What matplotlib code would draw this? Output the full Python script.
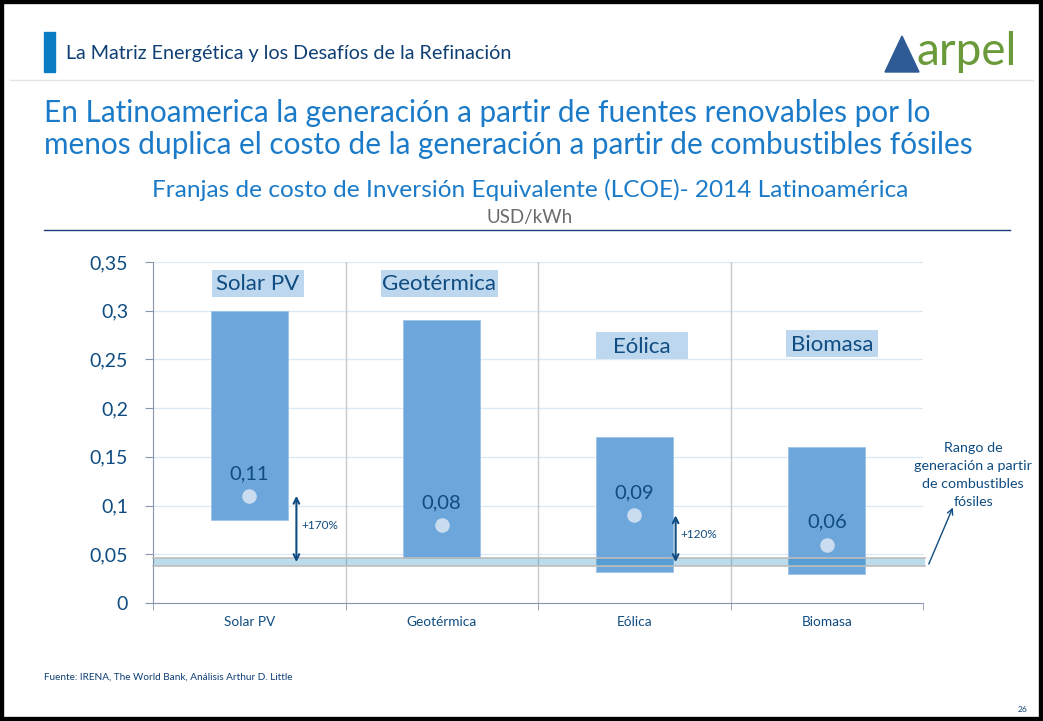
import matplotlib
matplotlib.use('Agg')
import matplotlib.pyplot as plt
from matplotlib.patches import Rectangle, Polygon

plt.rcParams['font.family'] = ['Lato', 'DejaVu Sans']

# data (USD/kWh, LCOE 2014 Latinoamérica)
categories = ['Solar PV', 'Geotérmica', 'Eólica', 'Biomasa']
lows = [0.085, 0.046, 0.032, 0.030]
highs = [0.30, 0.29, 0.17, 0.16]
averages = [0.11, 0.08, 0.09, 0.06]
avg_labels = ['0,11', '0,08', '0,09', '0,06']
fossil_low, fossil_high = 0.038, 0.046
gaps = {0: '+170%', 2: '+120%'}
yticks = [0, 0.05, 0.1, 0.15, 0.2, 0.25, 0.3, 0.35]
ytick_labels = ['0', '0,05', '0,1', '0,15', '0,2', '0,25', '0,3', '0,35']

# placement of the category header boxes (layout only)
box_dx = [0.044, -0.013, 0.039, 0.026]
box_y = [0.328, 0.328, 0.264, 0.266]
box_w = [0.478, 0.608, 0.478, 0.478]
box_h = 0.0277

DARK = '#0F4C81'
BRIGHT = '#1B7BC8'
BAR = '#6CA6DA'

fig = plt.figure(figsize=(10.43, 7.21), dpi=100)
W, H = 1043, 721


def px(x, y):
    return x / W, 1 - y / H


# slide frame and header
fig.patches.append(Rectangle((0, 0), 1, 1, transform=fig.transFigure,
                             fill=False, edgecolor='black', linewidth=6))
fig.patches.append(Rectangle(px(44, 72), 11 / W, 40 / H, transform=fig.transFigure,
                             color='#0A7CC4'))
fig.text(*px(66, 53), 'La Matriz Energética y los Desafíos de la Refinación',
         fontsize=14.2, color='#0F3F73', va='center')
fig.patches.append(Polygon([px(885, 72), px(902, 36), px(919, 72)],
                           closed=True, transform=fig.transFigure,
                           color='#2E5B95'))
fig.text(*px(917, 52), 'arpel', fontsize=33, color='#6A9A3A', va='center')
fig.add_artist(plt.Line2D([0.01, 0.99], [1 - 80 / H] * 2, color='#E4E4E4',
                          linewidth=1, transform=fig.transFigure))

# titles
fig.text(*px(44, 129), 'En Latinoamerica la generación a partir de fuentes renovables por lo\n'
         'menos duplica el costo de la generación a partir de combustibles fósiles',
         fontsize=21.4, color=BRIGHT, va='center', linespacing=1.2)
fig.text(*px(530, 190), 'Franjas de costo de Inversión Equivalente (LCOE)- 2014 Latinoamérica',
         fontsize=17.6, color=BRIGHT, ha='center', va='center')
fig.text(*px(530, 217), 'USD/kWh', fontsize=13.5, color='#6B6B6B',
         ha='center', va='center')
fig.add_artist(plt.Line2D([44 / W, 1010 / W], [1 - 230 / H] * 2,
                          color='#1F3F7A', linewidth=1, transform=fig.transFigure))

# chart
ax = fig.add_axes([153 / W, 1 - 603 / H, 770 / W, 341 / H])
x = list(range(len(categories)))
ax.set_xlim(-0.5, len(categories) - 0.5)
ax.set_ylim(0, 0.35)
for y in yticks[1:]:
    ax.axhline(y, color='#DCEAF6', linewidth=1, zorder=0)
for b in [0.5, 1.5, 2.5]:
    ax.axvline(b, color='#C8C8C8', linewidth=1, zorder=0)

ax.bar(x, [h - l for h, l in zip(highs, lows)], bottom=lows, width=0.4,
       color=BAR, edgecolor='#9CC3E6', linewidth=0.6, zorder=2)
ax.axhspan(fossil_low, fossil_high, xmin=0, xmax=1.003, color='#238AC0',
           alpha=0.3, linewidth=0, zorder=3, clip_on=False)
for y in (fossil_low, fossil_high):
    ax.axhline(y, xmin=0, xmax=1.003, color='#BDBDBD', linewidth=1.2,
               zorder=3, clip_on=False)
ax.scatter(x, averages, s=110, color='#C9DCF0', zorder=4, linewidths=0)
for i, lab in enumerate(avg_labels):
    ax.text(x[i], averages[i] + 0.023, lab, ha='center', va='center',
            fontsize=14.5, color=DARK, zorder=5)
for i, cat in enumerate(categories):
    cx = x[i] + box_dx[i]
    ax.add_patch(Rectangle((cx - box_w[i] / 2, box_y[i] - box_h / 2),
                           box_w[i], box_h, color='#BDD7EE', zorder=4,
                           linewidth=0))
    ax.text(cx, box_y[i] - 0.001, cat, ha='center', va='center',
            fontsize=16, color=DARK, zorder=5)

mid = (fossil_low + fossil_high) / 2
for i, lab in gaps.items():
    xa = x[i] + (0.245 if i == 0 else 0.215)
    ax.annotate('', xy=(xa, averages[i]), xytext=(xa, mid),
                arrowprops=dict(arrowstyle='<->', color=DARK, lw=1.5,
                                shrinkA=0, shrinkB=0), zorder=5)
    ax.text(xa + 0.025, (averages[i] + mid) / 2 + 0.004, lab, fontsize=8.5,
            color=DARK, va='center', ha='left')

ax.text(3.76, 0.131, 'Rango de\ngeneración a partir\nde combustibles\nfósiles',
        ha='center', va='center', fontsize=10.3, color=DARK, clip_on=False,
        linespacing=1.6)
ax.annotate('', xy=(3.655, 0.098), xytext=(3.53, mid - 0.002),
            annotation_clip=False,
            arrowprops=dict(arrowstyle='->', color=DARK, lw=1,
                            shrinkA=0, shrinkB=0))

ax.set_yticks(yticks)
ax.set_yticklabels(ytick_labels, fontsize=14, color=DARK)
ax.set_xticks(x)
ax.set_xticklabels(categories, fontsize=9.8, color=DARK)
ax.tick_params(axis='x', length=0, pad=9)
ax.set_xticks([-0.5, 0.5, 1.5, 2.5, 3.5], minor=True)
ax.tick_params(axis='x', which='minor', length=5, color='#8A94B0')
ax.tick_params(axis='y', length=6, color='#8A94B0', pad=12)
for s in ['top', 'right']:
    ax.spines[s].set_visible(False)
for s in ['left', 'bottom']:
    ax.spines[s].set_color('#8A94B0')

# footer
fig.text(*px(44, 677), 'Fuente: IRENA, The World Bank, Análisis Arthur D. Little',
         fontsize=7.2, color='#0F3F73', va='center')
fig.text(*px(1023, 710), '26', fontsize=6, color='#0F3F73', va='center',
         ha='center')

fig.savefig('out.png', dpi=100)
